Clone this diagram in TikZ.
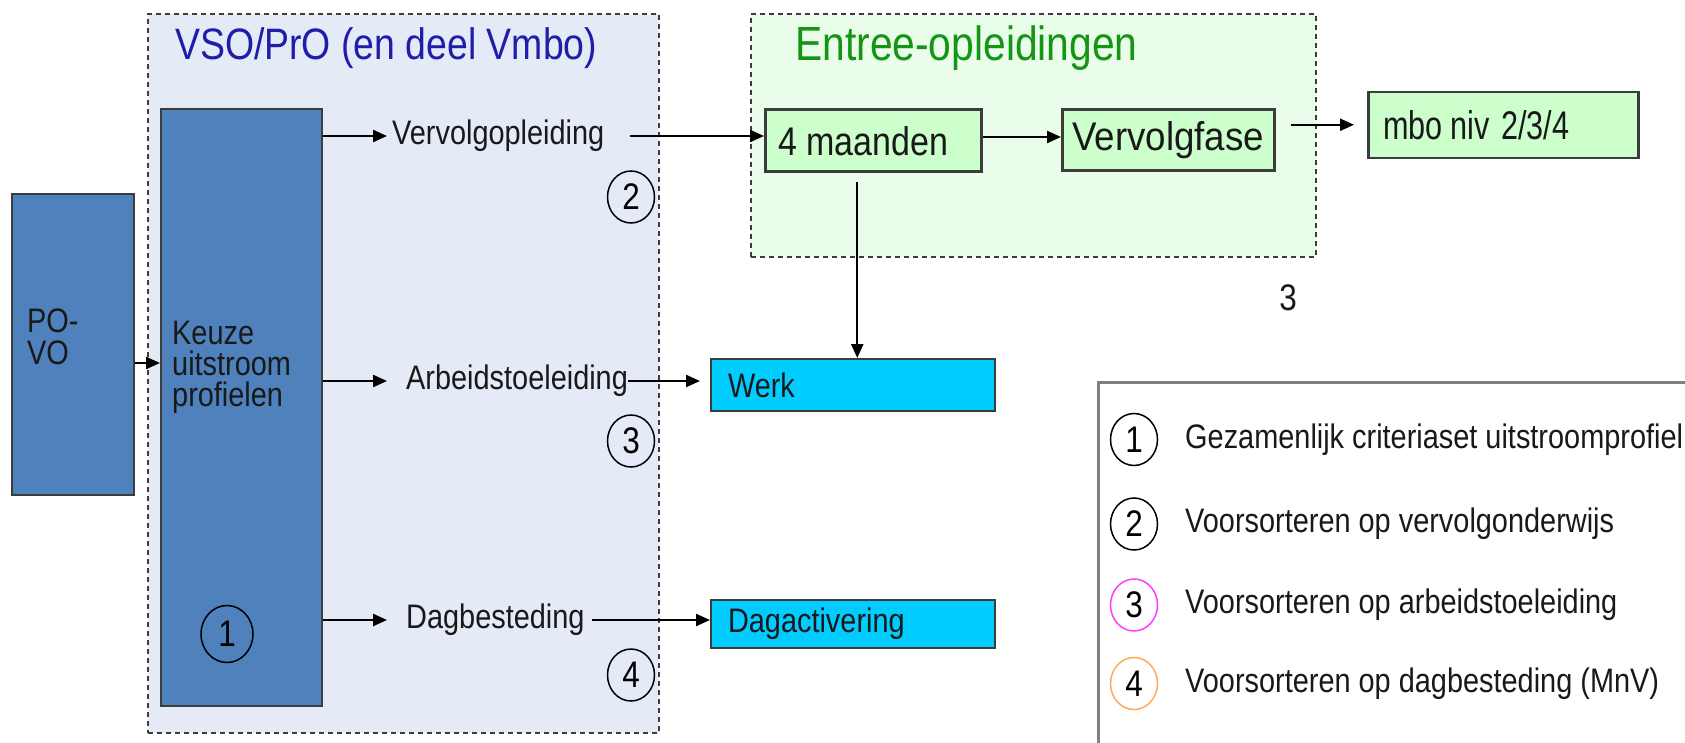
\documentclass[tikz,border=0pt]{standalone}
\usepackage{fontspec}
\setmainfont[FakeStretch=0.85]{Liberation Sans}
\usetikzlibrary{arrows.meta,shapes.geometric,calc}
\definecolor{vsofill}{RGB}{228,234,246}
\definecolor{entfill}{RGB}{234,252,234}
\definecolor{bluebox}{RGB}{79,129,189}
\definecolor{greenbox}{RGB}{204,255,204}
\definecolor{cyanbox}{RGB}{0,204,255}
\definecolor{titleblue}{RGB}{30,30,170}
\definecolor{titlegreen}{RGB}{20,150,20}
\definecolor{edge}{RGB}{60,60,60}
\definecolor{magc}{RGB}{255,60,255}
\definecolor{orac}{RGB}{255,170,90}
\definecolor{txt}{RGB}{25,25,25}
\begin{document}
\begin{tikzpicture}[x=1pt,y=-1pt,
  arr/.style={draw=black, line width=2.3pt, -{Triangle[length=14pt,width=12pt]}},
  container/.style={draw=edge, dashed, dash pattern=on 5pt off 4pt, line width=2pt, anchor=north west, inner sep=0pt},
  bbox/.style={draw=edge, line width=2pt, fill=bluebox, anchor=north west},
  gbox/.style={draw=edge, line width=2.5pt, fill=greenbox, anchor=north west, font=\fontsize{40}{40}\selectfont, text=txt},
  cbox/.style={draw=edge, line width=2pt, fill=cyanbox, anchor=north west, font=\fontsize{34}{34}\selectfont, text=txt},
  lbl/.style={inner sep=0pt, font=\fontsize{34}{34}\selectfont, text=txt, anchor=west},
  numc/.style={ellipse, draw=black, line width=1.5pt, minimum width=47pt, minimum height=52pt, inner sep=0pt, font=\fontsize{37}{37}\selectfont},
  ttl/.style={inner sep=0pt, anchor=west}
]
\useasboundingbox (0,0) rectangle (1685,743);
\clip (0,0) rectangle (1685,743);
\fill[white] (0,0) rectangle (1685,743);

% containers
\node[container, fill=vsofill, minimum width=511pt, minimum height=719pt] (vso) at (147,13) {};
\node[container, fill=entfill, minimum width=565pt, minimum height=243pt] (entree) at (750,13) {};
\node[ttl, text=titleblue, font=\fontsize{44}{44}\selectfont] (vsottl) at (175,48) {VSO/PrO (en deel Vmbo)};
\node[ttl, text=titlegreen, font=\fontsize{48}{48}\selectfont] (entttl) at (795,48) {Entree-opleidingen};

% blue boxes
\node[bbox, minimum width=122pt, minimum height=301pt] (povo) at (11,193) {};
\node[lbl, align=left, font=\fontsize{34}{32}\selectfont] (povotxt) at (27,337) {PO-\\VO};
\node[bbox, minimum width=161pt, minimum height=596pt] (keuze) at (160,108.5) {};
\node[lbl, align=left, font=\fontsize{34}{31}\selectfont] (keuzetxt) at (172,367) {Keuze\\uitstroom\\profielen};
\node[numc, minimum width=52pt, minimum height=57pt] (c1) at (227,634) {1};

% labels
\node[lbl] (vervolg) at (392,136) {Vervolgopleiding};
\node[lbl] (arb) at (406,381) {Arbeidstoeleiding};
\node[lbl] (dagb) at (406,620) {Dagbesteding};
\node[numc] (c2) at (631,197) {2};
\node[numc] (c3) at (631,441) {3};
\node[numc] (c4) at (631,675) {4};

% green boxes
\node[gbox, minimum width=216pt, minimum height=62pt, text width=190pt, inner xsep=13pt, align=left] (maanden) at (764,108.5) {4\hspace{-4pt} maanden};
\node[gbox, minimum width=212pt, minimum height=61pt] (vfase) at (1061,108.5) {\scalebox{1.08}[1]{Vervolgfase}};
\node[gbox, minimum width=270pt, minimum height=66pt, text width=240pt, inner xsep=15pt, align=left] (mbo) at (1367,91) {\scalebox{0.9}[1]{mbo\hspace{-5pt} niv 2/3/4}};

% cyan boxes
\node[cbox, minimum width=281pt, minimum height=52pt, text width=250pt, inner xsep=17pt, align=left] (werk) at (710,358) {Werk};
\node[cbox, minimum width=281pt, minimum height=48.5pt, text width=250pt, inner xsep=17pt, align=left] (dagact) at (710,598.5) {Dagactivering};

\node[inner sep=0pt, font=\fontsize{37}{37}\selectfont, text=txt] (three) at (1288,298) {3};

% legend
\draw[draw=gray, line width=3pt, fill=white] (1098,382.5) rectangle (1720,790);
\node[numc] (l1) at (1134,439.5) {1};
\node[numc] (l2) at (1134,524) {2};
\node[numc, draw=magc] (l3) at (1134,605) {3};
\node[numc, draw=orac] (l4) at (1134,683.5) {4};
\node[lbl] (t1) at (1185,439.5) {Gezamenlijk criteriaset uitstroomprofiel};
\node[lbl] (t2) at (1185,524) {Voorsorteren op vervolgonderwijs};
\node[lbl] (t3) at (1185,605) {Voorsorteren op arbeidstoeleiding};
\node[lbl] (t4) at (1185,683.5) {Voorsorteren op dagbesteding (MnV)};

% connectors
\coordinate (pv) at ($(povo.east)+(0,18.5)$);
\draw[arr] (pv) -- (pv -| keuze.west);
\draw[arr, shorten >=5pt] (keuze.east |- vervolg.west) -- (vervolg.west);
\draw[arr, shorten >=5pt] (keuze.east |- arb.west) -- ($(arb.west)+(-14,0)$);
\draw[arr, shorten >=5pt] (keuze.east |- dagb.west) -- ($(dagb.west)+(-14,0)$);
\draw[arr, shorten <=25pt] (vervolg.east) -- (maanden.west |- vervolg.east);
\draw[arr] (arb.east) -- ($(werk.west |- arb.east)+(-10,0)$);
\draw[arr, shorten <=7pt] (dagb.east) -- (dagact.west |- dagb.east);
\draw[arr] (maanden.east |- 0,137) -- (vfase.west |- 0,137);
\coordinate (vm) at ($(vfase.east)+(15,-15.5)$);
\draw[arr] (vm) -- ($(vm -| mbo.west)+(-13,0)$);
\coordinate (vdown) at ($(maanden.south)+(-16,9.5)$);
\draw[arr] (vdown) -- (vdown |- werk.north);
\end{tikzpicture}
\end{document}
